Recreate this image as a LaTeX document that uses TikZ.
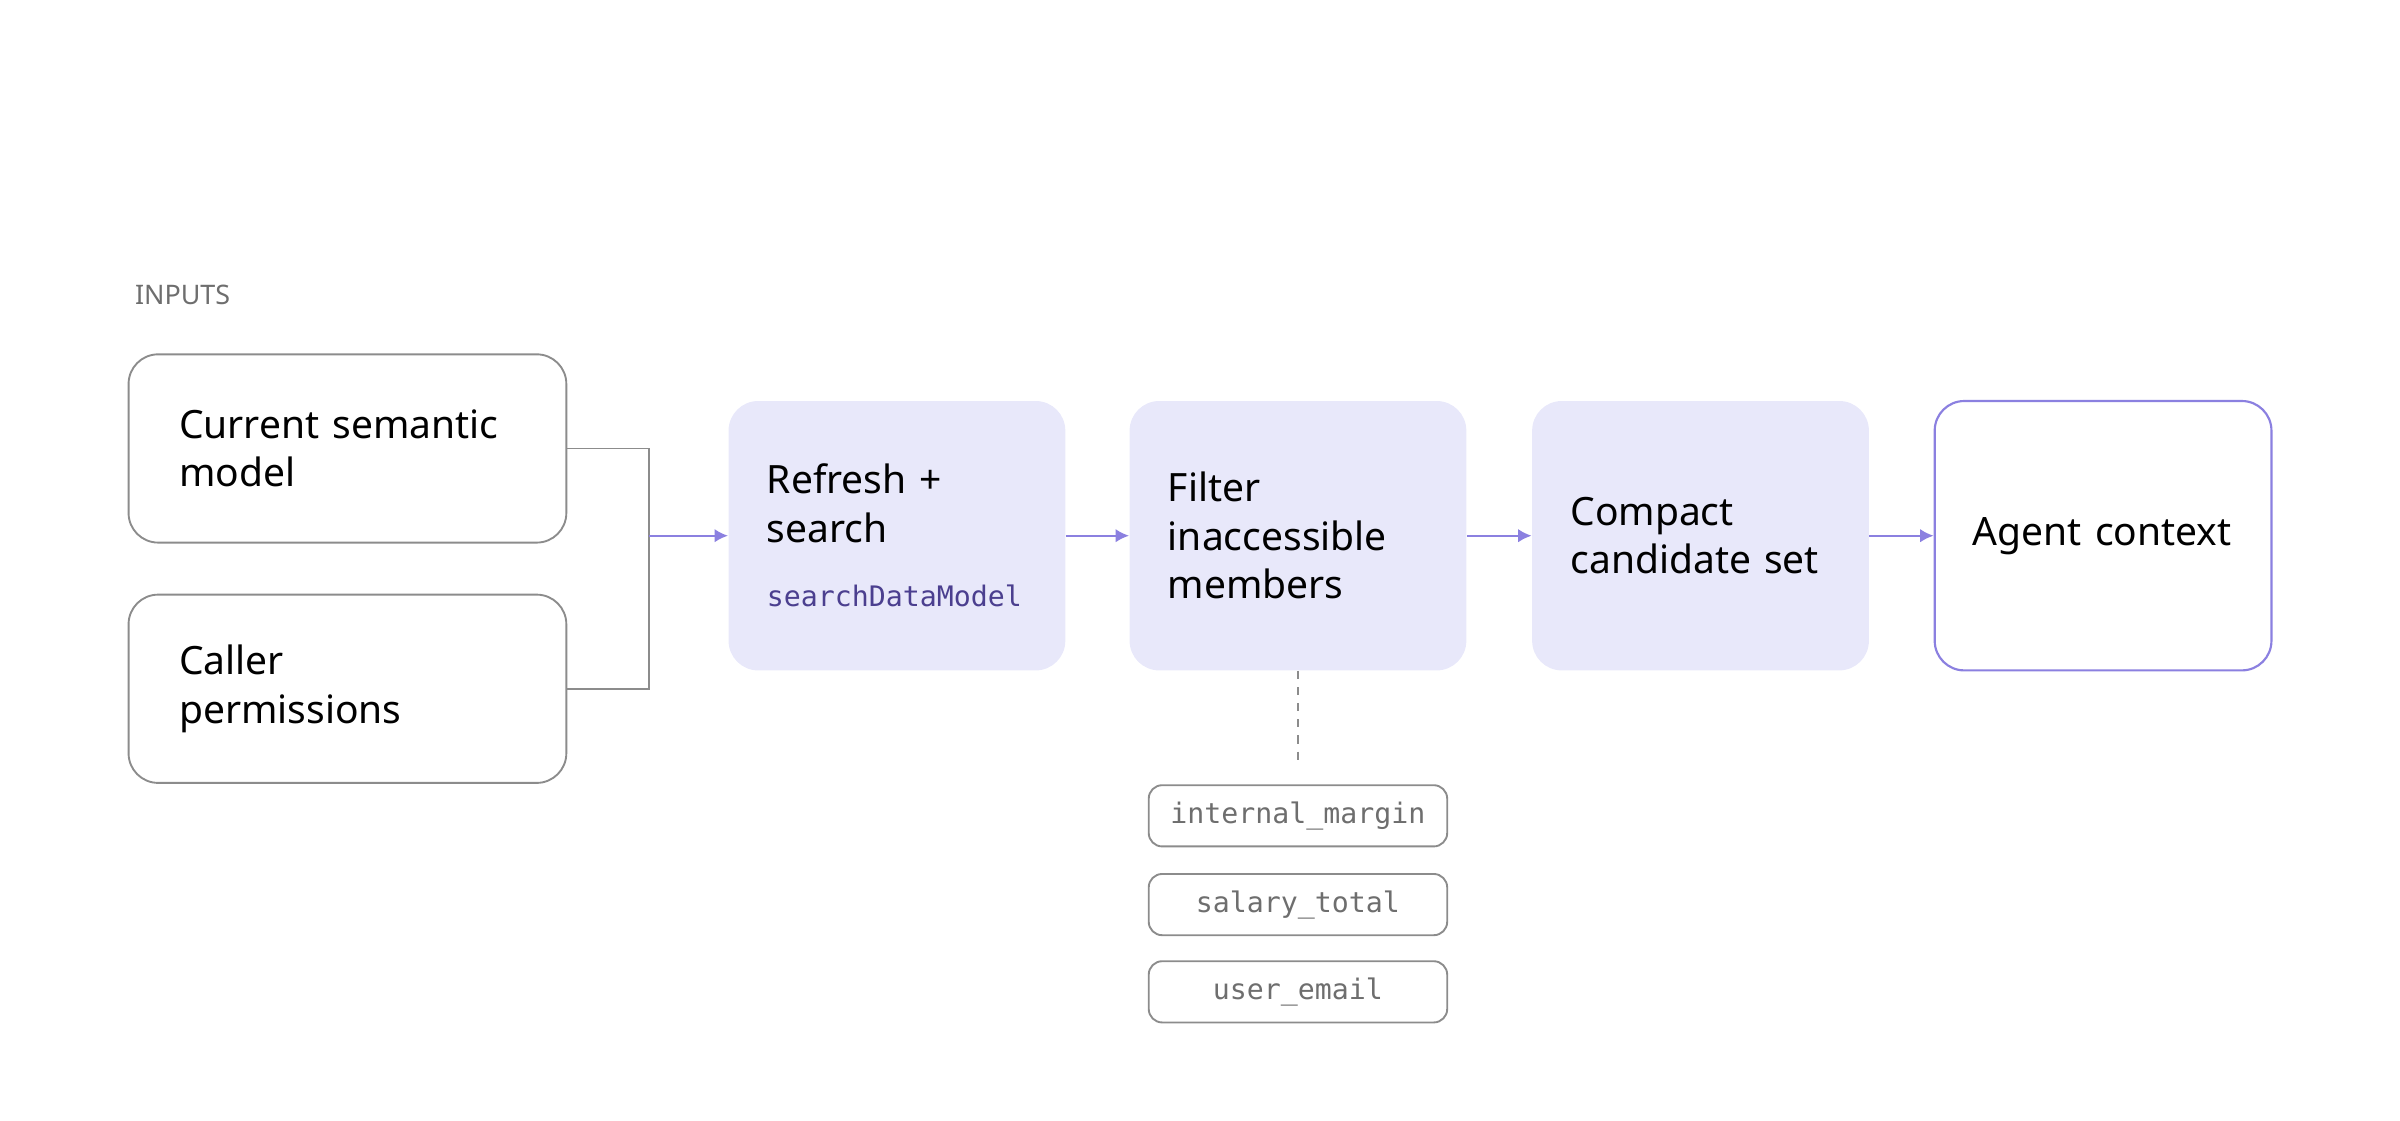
\documentclass[tikz,border=0pt]{standalone}
\usepackage{fontspec}
\setmainfont{Noto Sans}
\setmonofont{DejaVu Sans Mono}
\usetikzlibrary{positioning,arrows.meta}
\definecolor{stage}{HTML}{E8E8FA}
\definecolor{accent}{HTML}{8B80E0}
\definecolor{codeink}{HTML}{4B3F8F}
\definecolor{edge}{HTML}{8C8C8C}
\definecolor{muted}{HTML}{6E6E6E}

\begin{document}
\begin{tikzpicture}[x=0.02cm,y=-0.02cm,
    input/.style={draw=edge,line width=0.7pt,rounded corners=11pt,fill=white,
      minimum width=286*0.02cm,minimum height=123*0.02cm,text width=220*0.02cm,
      align=left,font=\fontsize{14.5}{18}\selectfont},
    phase/.style={fill=stage,rounded corners=11pt,minimum width=220*0.02cm,
      minimum height=176*0.02cm,text width=170*0.02cm,align=left,
      font=\fontsize{14.5}{18}\selectfont},
    member/.style={draw=edge,line width=0.7pt,rounded corners=5pt,
      minimum width=195*0.02cm,minimum height=40*0.02cm,text=muted,
      font=\ttfamily\fontsize{10.5}{12}\selectfont},
    flow/.style={accent,line width=0.8pt,-{Latex[length=5pt,width=5pt]}},
    wire/.style={edge,line width=0.7pt}]
  \useasboundingbox (0,0) rectangle (1568,732);

  \node[anchor=west,text=muted,font=\fontsize{10}{12}\selectfont] (inputs) at (82,193) {INPUTS};
  \node[input] (model) at (227,293) {Current semantic\\model};
  \node[input] (perms) at (227,450) {Caller\\permissions};

  \node[phase] (search) at (586,350) {Refresh +\\search\\[6pt]{\color{codeink}\ttfamily\fontsize{10.5}{12}\selectfont searchDataModel}};
  \node[phase] (filter) at (848,350) {Filter\\inaccessible\\members};
  \node[phase] (compact) at (1111,350) {Compact\\candidate set};
  \node[phase,fill=white,draw=accent,line width=0.8pt] (agent) at (1374,350) {Agent context};

  \coordinate (join) at (424,350);
  \draw[wire] (model.east) -| (join);
  \draw[wire] (perms.east) -| (join);
  \draw[flow] (join) -- (search.west);
  \draw[flow] (search) -- (filter);
  \draw[flow] (filter) -- (compact);
  \draw[flow] (compact) -- (agent);

  \node[member] (margin) at (848,533) {internal\_margin};
  \node[member] (salary) at (848,591) {salary\_total};
  \node[member] (email) at (848,648) {user\_email};
  \draw[wire,dashed,dash pattern=on 3pt off 3pt] (filter.south) -- ++(0,60);
\end{tikzpicture}
\end{document}
